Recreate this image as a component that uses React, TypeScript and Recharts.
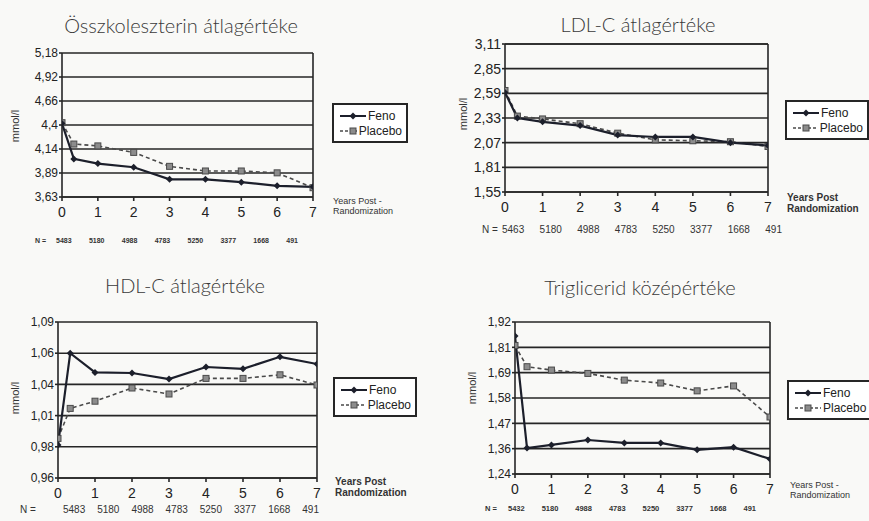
import React from "react";
import { LineChart, Line, XAxis, YAxis, CartesianGrid, Legend, ReferenceLine } from "recharts";

// years after randomization (second point is the ~4 month visit)
const years = [0, 0.33, 1, 2, 3, 4, 5, 6, 7];
const xTicks = [0, 1, 2, 3, 4, 5, 6, 7];

const cholFeno = [4.42, 4.04, 3.99, 3.95, 3.82, 3.82, 3.79, 3.75, 3.74];
const cholPlacebo = [4.43, 4.2, 4.18, 4.11, 3.96, 3.91, 3.91, 3.89, 3.73];
const cholTicks = ["3,63", "3,89", "4,14", "4,4", "4,66", "4,92", "5,18"];
const cholN = ["5483", "5180", "4988", "4783", "5250", "3377", "1668", "491"];

const ldlFeno = [2.6, 2.33, 2.29, 2.25, 2.15, 2.13, 2.13, 2.07, 2.04];
const ldlPlacebo = [2.62, 2.35, 2.32, 2.27, 2.17, 2.1, 2.09, 2.08, 2.03];
const ldlTicks = ["1,55", "1,81", "2,07", "2,33", "2,59", "2,85", "3,11"];
const ldlN = ["5463", "5180", "4988", "4783", "5250", "3377", "1668", "491"];

const hdlFeno = [0.9875, 1.064, 1.048, 1.0475, 1.0425, 1.0525, 1.051, 1.061, 1.055];
const hdlPlacebo = [0.993, 1.018, 1.024, 1.035, 1.03, 1.043, 1.043, 1.046, 1.0375];
const hdlTicks = ["0,96", "0,98", "1,01", "1,04", "1,06", "1,09"];
const hdlN = ["5483", "5180", "4988", "4783", "5250", "3377", "1668", "491"];

const trigFeno = [1.857, 1.356, 1.37, 1.392, 1.379, 1.379, 1.348, 1.36, 1.307];
const trigPlacebo = [1.815, 1.72, 1.705, 1.69, 1.66, 1.647, 1.612, 1.634, 1.495];
const trigTicks = ["1,24", "1,36", "1,47", "1,58", "1,69", "1,81", "1,92"];
const trigN = ["5432", "5180", "4988", "4783", "5250", "3377", "1668", "491"];

const INK = "#262626";
const TICK_FONT = "'Liberation Sans', Arial, sans-serif";
const TITLE_FONT = "'Lato', 'Open Sans', sans-serif";

const Diamond = (props: any) => {
  const { cx, cy, index } = props;
  if (cx == null || cy == null) return <g key={`d${index}`} />;
  const s = 3.5;
  return (
    <polygon
      key={`d${index}`}
      points={`${cx},${cy - s} ${cx + s},${cy} ${cx},${cy + s} ${cx - s},${cy}`}
      fill="#1c1f2b"
    />
  );
};

const Square = (props: any) => {
  const { cx, cy, index } = props;
  if (cx == null || cy == null) return <g key={`s${index}`} />;
  return <rect key={`s${index}`} x={cx - 3} y={cy - 3} width={6} height={6} fill="#8c8c8c" stroke="#4a4a4a" strokeWidth={1} />;
};

const LegendBox = (props: any) => {
  const items = props.payload || [];
  return (
    <div
      style={{
        border: `2px solid ${INK}`,
        background: "#fff",
        padding: "3px 4px 3px 6px",
        fontFamily: TICK_FONT,
        fontSize: 12,
        color: "#222",
        boxSizing: "border-box",
      }}
    >
      {items.map((p: any, i: number) => (
        <div key={p.value} style={{ display: "flex", alignItems: "center", height: 15 }}>
          <svg width={26} height={10} style={{ marginRight: 2 }}>
            <line x1={0} y1={5} x2={26} y2={5} stroke={i === 0 ? "#1c1f2b" : "#4a4a4a"} strokeWidth={i === 0 ? 2 : 1.6} strokeDasharray={i === 0 ? undefined : "3 2"} />
            {i === 0 ? (
              <polygon points="13,1.5 16.5,5 13,8.5 9.5,5" fill="#1c1f2b" />
            ) : (
              <rect x={10} y={2} width={6} height={6} fill="#8c8c8c" stroke="#4a4a4a" />
            )}
          </svg>
          <span>{p.value}</span>
        </div>
      ))}
    </div>
  );
};

type Panel = {
  title: string;
  feno: number[];
  placebo: number[];
  ticks: string[];
  domain: [number, number];
  n: string[];
  ox: number;
  oy: number;
  w: number;
  plot: { l: number; t: number; r: number; b: number };
  yFont: number;
  legend: { l: number; t: number; w: number };
  titleAt: [number, number];
  yLabelAt: [number, number];
  xLabelAt: [number, number];
  xLabelBold: boolean;
  xLabel: string[];
  nLabelX: number;
  nRange: [number, number];
  nY: number;
  nFont: number;
  nBold: boolean;
};

const panels: Panel[] = [
  {
    title: "Összkoleszterin átlagértéke",
    feno: cholFeno, placebo: cholPlacebo, ticks: cholTicks, domain: [3.63, 5.18], n: cholN,
    ox: 0, oy: 0, w: 435, plot: { l: 62, t: 53, r: 313, b: 197 }, yFont: 12,
    legend: { l: 332, t: 103, w: 76 }, titleAt: [181, 25], yLabelAt: [15, 126],
    xLabelAt: [333, 196], xLabelBold: false, xLabel: ["Years Post -", "Randomization"],
    nLabelX: 35, nRange: [56, 298], nY: 240, nFont: 7, nBold: true,
  },
  {
    title: "LDL-C átlagértéke",
    feno: ldlFeno, placebo: ldlPlacebo, ticks: ldlTicks, domain: [1.55, 3.11], n: ldlN,
    ox: 435, oy: 0, w: 434, plot: { l: 505, t: 44, r: 768, b: 192 }, yFont: 14,
    legend: { l: 785, t: 100, w: 84 }, titleAt: [638, 24], yLabelAt: [463, 114],
    xLabelAt: [787, 192], xLabelBold: true, xLabel: ["Years Post", "Randomization"],
    nLabelX: 482, nRange: [502, 782], nY: 229, nFont: 10, nBold: false,
  },
  {
    title: "HDL-C átlagértéke",
    feno: hdlFeno, placebo: hdlPlacebo, ticks: hdlTicks, domain: [0.96, 1.09], n: hdlN,
    ox: 0, oy: 260, w: 435, plot: { l: 58, t: 322, r: 317, b: 478 }, yFont: 12,
    legend: { l: 333, t: 377, w: 84 }, titleAt: [185, 285], yLabelAt: [15, 398],
    xLabelAt: [335, 476], xLabelBold: true, xLabel: ["Years Post", "Randomization"],
    nLabelX: 20, nRange: [63, 319], nY: 509, nFont: 10, nBold: false,
  },
  {
    title: "Triglicerid középértéke",
    feno: trigFeno, placebo: trigPlacebo, ticks: trigTicks, domain: [1.24, 1.92], n: trigN,
    ox: 435, oy: 260, w: 434, plot: { l: 515, t: 322, r: 770, b: 474 }, yFont: 12,
    legend: { l: 787, t: 380, w: 90 }, titleAt: [640, 287], yLabelAt: [472, 388],
    xLabelAt: [790, 480], xLabelBold: false, xLabel: ["Years Post -", "Randomization"],
    nLabelX: 485, nRange: [508, 756], nY: 508, nFont: 7.5, nBold: true,
  },
];

const H = 260;
const Y_W = 44;
const X_H = 30;

function PanelChart({ p }: { p: Panel }) {
  const data = years.map((year, i) => ({ year, Feno: p.feno[i], Placebo: p.placebo[i] }));
  const [lo, hi] = p.domain;
  const step = (hi - lo) / (p.ticks.length - 1);
  const yTicks = p.ticks.map((_, i) => lo + i * step);
  const margin = {
    top: p.plot.t - p.oy,
    left: p.plot.l - p.ox - Y_W,
    right: p.ox + p.w - p.plot.r,
    bottom: p.oy + H - p.plot.b - X_H,
  };
  return (
    <>
      <div style={{ position: "absolute", left: p.ox, top: p.oy }}>
        <LineChart width={p.w} height={H} data={data} margin={margin}>
          <CartesianGrid vertical={false} stroke={INK} strokeWidth={1.6} />
          <XAxis
            type="number"
            dataKey="year"
            domain={[0, 7]}
            ticks={xTicks}
            allowDataOverflow
            stroke={INK}
            strokeWidth={1.6}
            tickSize={4}
            tickMargin={6}
            height={X_H}
            tick={{ fill: "#222", fontSize: 14, fontFamily: TICK_FONT }}
          />
          <YAxis
            type="number"
            domain={p.domain}
            ticks={yTicks}
            allowDataOverflow
            interval={0}
            width={Y_W}
            stroke={INK}
            strokeWidth={1.6}
            tickSize={3}
            tickMargin={1}
            tickFormatter={(_v: number, i: number) => p.ticks[i]}
            tick={{ fill: "#222", fontSize: p.yFont, fontFamily: TICK_FONT }}
          />
          <ReferenceLine x={7} stroke={INK} strokeWidth={1.6} />
          <Legend
            layout="vertical"
            align="center"
            verticalAlign="middle"
            content={<LegendBox />}
            wrapperStyle={{ left: p.legend.l - p.ox, top: p.legend.t - p.oy, width: p.legend.w }}
          />
          <Line
            dataKey="Placebo"
            type="linear"
            stroke="#4a4a4a"
            strokeWidth={1.6}
            strokeDasharray="4 3"
            dot={Square}
            isAnimationActive={false}
          />
          <Line
            dataKey="Feno"
            type="linear"
            stroke="#1c1f2b"
            strokeWidth={2.2}
            dot={Diamond}
            isAnimationActive={false}
          />
        </LineChart>
      </div>
      <div
        style={{
          position: "absolute",
          left: p.titleAt[0],
          top: p.titleAt[1],
          transform: "translate(-50%, -50%)",
          whiteSpace: "nowrap",
          fontFamily: TITLE_FONT,
          fontWeight: 300,
          fontSize: 20,
          color: "#3a3a3a",
        }}
      >
        {p.title}
      </div>
      <div
        style={{
          position: "absolute",
          left: p.yLabelAt[0],
          top: p.yLabelAt[1],
          transform: "translate(-50%, -50%) rotate(-90deg)",
          whiteSpace: "nowrap",
          fontFamily: TICK_FONT,
          fontSize: 11,
          color: "#333",
        }}
      >
        mmol/l
      </div>
      <div
        style={{
          position: "absolute",
          left: p.xLabelAt[0],
          top: p.xLabelAt[1],
          fontFamily: TICK_FONT,
          fontSize: p.xLabelBold ? 10 : 9,
          fontWeight: p.xLabelBold ? "bold" : "normal",
          lineHeight: p.xLabelBold ? "11px" : "10px",
          color: "#333",
          whiteSpace: "nowrap",
        }}
      >
        {p.xLabel.map((t) => (
          <div key={t}>{t}</div>
        ))}
      </div>
      <div
        style={{
          position: "absolute",
          left: p.nLabelX,
          top: p.nY,
          transform: "translateY(-50%)",
          fontFamily: TICK_FONT,
          fontSize: p.nFont,
          fontWeight: p.nBold ? "bold" : "normal",
          color: "#333",
          whiteSpace: "nowrap",
        }}
      >
        N =
      </div>
      <div
        style={{
          position: "absolute",
          left: p.nRange[0],
          width: p.nRange[1] - p.nRange[0],
          top: p.nY,
          transform: "translateY(-50%)",
          display: "flex",
          justifyContent: "space-between",
          fontFamily: TICK_FONT,
          fontSize: p.nFont,
          fontWeight: p.nBold ? "bold" : "normal",
          color: "#333",
        }}
      >
        {p.n.map((v, i) => (
          <span key={i}>{v}</span>
        ))}
      </div>
    </>
  );
}

export default function App() {
  return (
    <div
      style={{
        position: "absolute",
        left: 0,
        top: 0,
        width: 869,
        height: 521,
        overflow: "hidden",
        background: "#f9f9f7",
      }}
    >
      {panels.map((p) => (
        <PanelChart key={p.title} p={p} />
      ))}
    </div>
  );
}
